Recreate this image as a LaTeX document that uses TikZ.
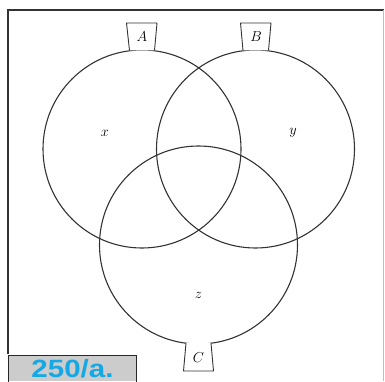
\documentclass[tikz,border=0pt]{standalone}
\usepackage{fontspec}
\newfontfamily\labelfont{Liberation Sans}
\definecolor{capblue}{RGB}{20,168,228}
\begin{document}
\begin{tikzpicture}[x=1pt,y=1pt,
  venn/.style={circle,draw=black!80,line width=1.1pt,minimum size=198pt,inner sep=0pt},
  tab/.style={draw=black!80,line width=0.9pt,fill=white},
  setlab/.style={font=\fontsize{15}{17}\selectfont,inner sep=0pt},
  varlab/.style={font=\fontsize{15}{17}\selectfont,inner sep=0pt}]
\useasboundingbox (0,0) rectangle (385,381);
% frame
\draw[black!80,line width=1.4pt] (8,27) -- (8,371) -- (384,371);
\draw[black!25,line width=1pt] (383,371) -- (383,0);
% circles
\node[venn] (A) at (142,232) {};
\node[venn] (B) at (255.5,232) {};
\node[venn] (C) at (198.5,136) {};
% tabs
\draw[tab] (129.5,330.5) -- (126.5,358) -- (157,358) -- (154.5,330.5);
\draw[tab] (243,330.5) -- (240.5,358) -- (271,358) -- (268.5,330.5);
\draw[tab] (186,38) -- (183.5,10) -- (213.5,10) -- (211,38);
\node[setlab] (la) at (142,344) {$A$};
\node[setlab] (lb) at (256,344) {$B$};
\node[setlab] (lc) at (198.5,23) {$C$};
% region labels
\node[varlab] (x) at (105,248) {$x$};
\node[varlab] (y) at (293,248) {$y$};
\node[varlab] (z) at (198.5,86) {$z$};
% caption box
\fill[black!20] (8,0) rectangle (136,26);
\draw[black!85,line width=1pt] (8,-2) -- (8,26) -- (136,26) -- (136,-2);
\node[anchor=base,inner sep=0pt,text=capblue,font=\labelfont\bfseries\fontsize{25}{30}\selectfont,xscale=1.18] (cap) at (72.5,4) {250/a.};
\end{tikzpicture}
\end{document}
